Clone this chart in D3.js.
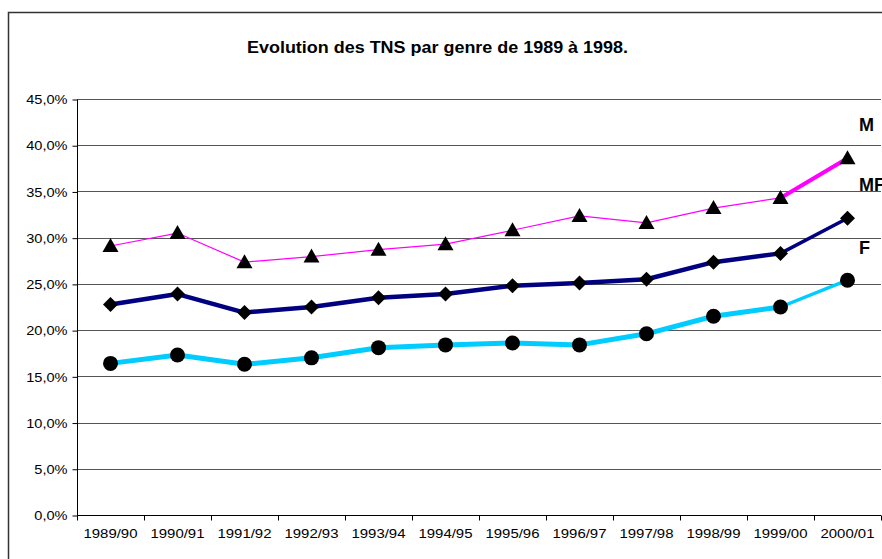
<!DOCTYPE html>
<html>
<head>
  <title>Evolution des TNS par genre</title>
  <style>
    body { margin: 0; padding: 0; background: #fff; }
    svg { display: block; font-family: "Liberation Sans", Arial, sans-serif; }
  </style>
</head>
<body>
  <div id="chart"></div>
  <script src="https://d3js.org/d3.v7.min.js"></script>
  <script>
    // Data
    const years = ['1989/90', '1990/91', '1991/92', '1992/93', '1993/94', '1994/95',
                   '1995/96', '1996/97', '1997/98', '1998/99', '1999/00', '2000/01'];
    const tnsM  = [29.1, 30.5, 27.35, 27.95, 28.7, 29.3, 30.8, 32.35, 31.6, 33.2, 34.3, 38.6];
    const tnsMF = [22.76, 23.9, 21.9, 22.5, 23.5, 23.9, 24.8, 25.1, 25.5, 27.35, 28.3, 32.1];
    const tnsF  = [16.4, 17.3, 16.3, 17.0, 18.1, 18.4, 18.6, 18.4, 19.6, 21.5, 22.5, 25.4];
    const yTicks = [0, 5, 10, 15, 20, 25, 30, 35, 40, 45];
    const seriesNames = ['M', 'MF', 'F'];

    const width = 882, height = 559;
    const svg = d3.select('#chart').append('svg')
      .attr('width', width)
      .attr('height', height);

    // outer frame (runs off the right and bottom edges)
    svg.append('rect')
      .attr('x', 8.5).attr('y', 12.5)
      .attr('width', 900).attr('height', 600)
      .attr('fill', 'none')
      .attr('stroke', '#333')
      .attr('stroke-width', 1.5);

    const x = d3.scaleBand().domain(years).range([77, 881]);
    const y = d3.scaleLinear().domain([0, 45]).range([515, 99]);
    const cx = d => x(d) + x.bandwidth() / 2;

    // title
    svg.append('text')
      .attr('x', 437.5).attr('y', 53)
      .attr('text-anchor', 'middle')
      .attr('font-weight', 'bold')
      .attr('font-size', 16)
      .attr('textLength', 381)
      .attr('lengthAdjust', 'spacingAndGlyphs')
      .text('Evolution des TNS par genre de 1989 à 1998.');

    // gridlines
    svg.append('g')
      .selectAll('line')
      .data(yTicks.filter(t => t > 0))
      .enter().append('line')
      .attr('x1', 77).attr('x2', 881)
      .attr('y1', d => Math.round(y(d)) + 0.5)
      .attr('y2', d => Math.round(y(d)) + 0.5)
      .attr('stroke', '#555')
      .attr('stroke-width', 1);

    // y axis
    const yAxis = svg.append('g')
      .attr('transform', 'translate(77.5,0.5)')
      .call(d3.axisLeft(y).tickValues(yTicks).tickSize(5).tickPadding(5)
        .tickFormat(d => d3.format('.1f')(d).replace('.', ',') + '%'));
    yAxis.select('.domain').attr('d', 'M0,' + Math.round(y(45)) + 'V' + Math.round(y(0)));
    yAxis.selectAll('text')
      .attr('font-size', 13)
      .attr('font-family', '"Liberation Sans", Arial, sans-serif')
      .attr('fill', '#000')
      .each(function() {
        const w = this.getComputedTextLength();
        d3.select(this).attr('textLength', w * 1.12).attr('lengthAdjust', 'spacingAndGlyphs');
      });

    // x axis with ticks at category boundaries
    const xAxis = svg.append('g')
      .attr('transform', 'translate(0,' + (Math.round(y(0)) + 0.5) + ')');
    xAxis.append('line')
      .attr('x1', 77).attr('x2', 881)
      .attr('stroke', '#000');
    xAxis.selectAll('.tick')
      .data(years.concat(['end']))
      .enter().append('line')
      .attr('x1', (d, i) => Math.round(77 + i * x.bandwidth()) + 0.5)
      .attr('x2', (d, i) => Math.round(77 + i * x.bandwidth()) + 0.5)
      .attr('y1', 0).attr('y2', 5)
      .attr('stroke', '#000');
    xAxis.selectAll('.lbl')
      .data(years)
      .enter().append('text')
      .attr('x', d => cx(d))
      .attr('y', 22)
      .attr('text-anchor', 'middle')
      .attr('font-size', 12)
      .attr('textLength', 54)
      .attr('lengthAdjust', 'spacingAndGlyphs')
      .text(d => d);

    // lines
    function drawSeries(values, color, w, wLast) {
      const pts = values.map((v, i) => [cx(years[i]), y(v)]);
      const line = d3.line();
      svg.append('path')
        .attr('d', line(pts.slice(0, -1)))
        .attr('fill', 'none')
        .attr('stroke', color)
        .attr('stroke-width', w)
        .attr('stroke-linejoin', 'round');
      svg.append('path')
        .attr('d', line(pts.slice(-2)))
        .attr('fill', 'none')
        .attr('stroke', color)
        .attr('stroke-width', wLast)
        .attr('stroke-linecap', 'round');
      return pts;
    }

    const ptsF = drawSeries(tnsF, '#00CCFF', 5, 3.5);
    const ptsMF = drawSeries(tnsMF, '#000080', 4.5, 3.5);
    const ptsM = drawSeries(tnsM, '#FF00FF', 1.2, 4);

    // markers
    svg.append('g').selectAll('circle')
      .data(ptsF).enter().append('circle')
      .attr('cx', d => d[0]).attr('cy', d => d[1])
      .attr('r', 7.5).attr('fill', '#000');

    svg.append('g').selectAll('path')
      .data(ptsMF).enter().append('path')
      .attr('d', d => `M${d[0]},${d[1] - 7.5}L${d[0] + 7.5},${d[1]}L${d[0]},${d[1] + 7.5}L${d[0] - 7.5},${d[1]}Z`)
      .attr('fill', '#000');

    svg.append('g').selectAll('path')
      .data(ptsM).enter().append('path')
      .attr('d', d => `M${d[0]},${d[1] - 8}L${d[0] + 8},${d[1] + 6}L${d[0] - 8},${d[1] + 6}Z`)
      .attr('fill', '#000');

    // series labels at right
    const labelY = { M: 131, MF: 191, F: 254 };
    svg.append('g').selectAll('text')
      .data(seriesNames).enter().append('text')
      .attr('x', 859)
      .attr('y', d => labelY[d])
      .attr('font-weight', 'bold')
      .attr('font-size', 18)
      .text(d => d);
  </script>
</body>
</html>
